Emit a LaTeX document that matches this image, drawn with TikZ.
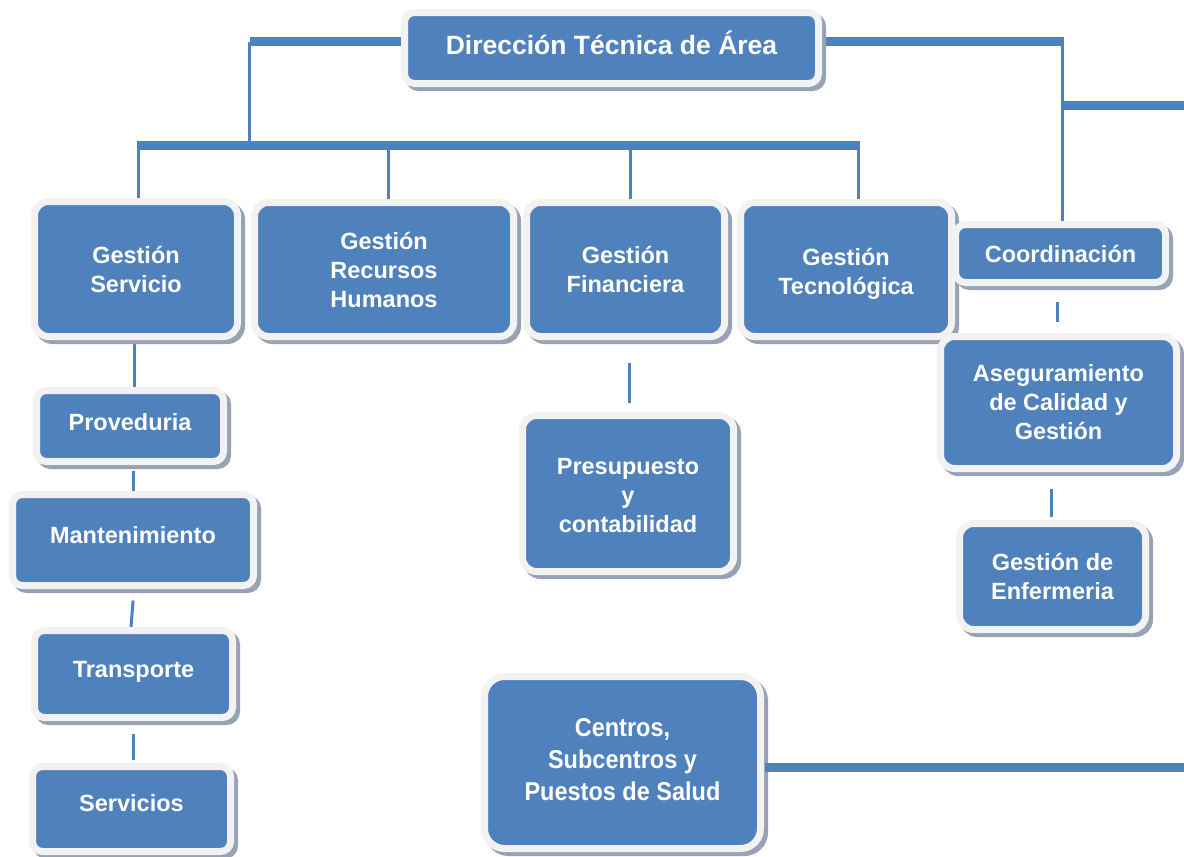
\documentclass[tikz,border=0pt]{standalone}
\usepackage{fontspec}
\setmainfont{Liberation Sans}
\usepackage{graphicx}
\usetikzlibrary{shadows,backgrounds}
\definecolor{boxblue}{HTML}{4F81BD}
\definecolor{rim}{HTML}{F2F2F2}
\definecolor{shade}{HTML}{97A3B5}
\definecolor{linkblue}{HTML}{4F81BD}
\tikzset{
  orgbox/.style={draw=rim, line width=7pt, fill=boxblue, rounded corners=14pt,
    text=white, font=\bfseries\fontsize{23.5}{29}\selectfont, align=center, inner sep=0pt,
    drop shadow={shadow xshift=4pt, shadow yshift=-4pt, opacity=1, fill=shade, draw=shade, line width=7pt}},
  smallbox/.style={orgbox, rounded corners=10pt},
  thicklink/.style={draw=linkblue, line width=9pt},
  thinlink/.style={draw=linkblue, line width=3pt},
}
\newcommand{\lift}[2]{\raisebox{#1}[\height][\depth]{\begin{tabular}{@{}c@{}}#2\end{tabular}}}
\begin{document}
\begin{tikzpicture}[x=1pt,y=-1pt]
\useasboundingbox (0,0) rectangle (1184,857);

% boxes (centre = blue area centre, size = blue size + 7)
\node[smallbox, font=\bfseries\fontsize{26.5}{31}\selectfont, minimum width=414pt, minimum height=71pt] (title) at (611.5,48) {\lift{1pt}{Dirección Técnica de Área}};

\node[orgbox, minimum width=203pt, minimum height=135pt] (serv) at (136,269) {Gestión\\Servicio};
\node[orgbox, minimum width=259pt, minimum height=134pt] (rrhh) at (384,269.5) {Gestión\\Recursos\\Humanos};
\node[orgbox, minimum width=198pt, minimum height=134pt] (fin) at (625.5,269.5) {Gestión\\Financiera};
\node[orgbox, minimum width=211pt, minimum height=134pt] (tec) at (846,269.5) {\lift{-4.5pt}{Gestión\\Tecnológica}};
\node[smallbox, minimum width=210pt, minimum height=58pt] (coord) at (1060.5,253.5) {Coordinación};
\node[orgbox, minimum width=236pt, minimum height=132pt] (aseg) at (1058.5,402.5) {Aseguramiento\\de Calidad y\\Gestión};
\node[orgbox, minimum width=186pt, minimum height=106pt] (enf) at (1052.5,576.5) {Gestión de\\Enfermeria};
\node[orgbox, minimum width=211pt, minimum height=156pt] (pres) at (628,493.5) {\lift{-4pt}{Presupuesto\\y\\contabilidad}};
\node[smallbox, minimum width=187pt, minimum height=71pt] (prov) at (130,426) {\lift{1pt}{Proveduria}};
\node[smallbox, minimum width=241pt, minimum height=91pt] (mant) at (133,540) {\lift{2pt}{Mantenimiento}};
\node[smallbox, minimum width=198pt, minimum height=87pt] (trans) at (133.5,674) {\lift{2pt}{Transporte}};
\node[smallbox, minimum width=198pt, minimum height=85pt] (servs) at (131.5,809) {\lift{3pt}{Servicios}};
\node[orgbox, rounded corners=20pt, minimum width=276pt, minimum height=172pt] (centros) at (622.5,762.5)
  {\scalebox{1}[1.1]{\begin{tabular}{@{}c@{}}Centros,\\Subcentros y\\Puestos de Salud\end{tabular}}};

% junction points
\coordinate (jTL) at (250,41.5);
\coordinate (jML) at (249.5,145);
\coordinate (barL) at (137,145);
\coordinate (barR) at (859.5,145);
\coordinate (v1) at (138.5,145);
\coordinate (v2) at (388.5,145);
\coordinate (v3) at (630,145);
\coordinate (v4) at (858,145);
\coordinate (jTR) at (1063.5,41.5);
\coordinate (vR) at (1062,41.5);
\coordinate (jR2) at (1062,105.5);
\coordinate (edgeR) at (1184,105.5);
\coordinate (edgeC) at (1184,767);
\coordinate (xA) at (1057,0);
\coordinate (xB) at (1051,0);
\coordinate (xS) at (134,0);
\coordinate (xP) at (133,0);
\coordinate (xF) at (629,0);

\begin{scope}[on background layer]
\draw[thicklink] ([yshift=6.5pt]title.west) -- (jTL);
\draw[thinlink] (jTL -| jML) -- (jML);
\draw[thicklink] (barL) -- (barR);
\draw[thinlink] (v1) -- (v1 |- serv.north);
\draw[thinlink] (v2) -- (v2 |- rrhh.north);
\draw[thinlink] (v3) -- (v3 |- fin.north);
\draw[thinlink] (v4) -- (v4 |- tec.north);
\draw[thicklink] ([yshift=6.5pt]title.east) -- (jTR);
\draw[thinlink] (vR) -- (vR |- coord.north);
\draw[thicklink] (jR2) -- (edgeR);
\draw[thinlink] (xS |- serv.south) -- (xS |- prov.north);
\draw[thinlink, shorten <=5.5pt] (xP |- prov.south) -- (xP |- mant.north);
\draw[thinlink, shorten <=11.5pt] ([xshift=1pt]mant.south) -- ([xshift=-2.5pt]trans.north);
\draw[thinlink, shorten <=12.5pt, shorten >=3.5pt] (xP |- trans.south) -- (xP |- servs.north);
\end{scope}
\draw[thinlink, shorten <=15.5pt, shorten >=11.5pt] (xA |- coord.south) -- (xA |- aseg.north);
\draw[thinlink, shorten <=16.5pt, shorten >=3.5pt] (xB |- aseg.south) -- (xB |- enf.north);
\draw[thinlink, shorten <=22.5pt, shorten >=9.5pt] (xF |- fin.south) -- (xF |- pres.north);
\draw[thicklink] ([xshift=1pt]centros.east |- edgeC) -- (edgeC);
\end{tikzpicture}
\end{document}
